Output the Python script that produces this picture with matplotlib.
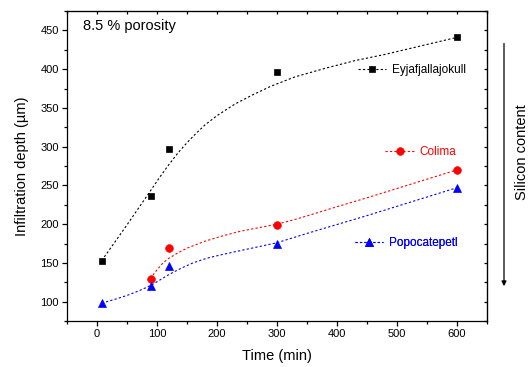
import matplotlib
matplotlib.use("Agg")
import matplotlib.pyplot as plt
from matplotlib.lines import Line2D
from matplotlib.ticker import MultipleLocator

plt.rcParams['font.family'] = ['Liberation Sans', 'DejaVu Sans']

# measured points: time (min) vs infiltration depth (um)
time_eyj = [8, 90, 120, 300, 600]
depth_eyj = [153, 236, 297, 396, 441]
time_col = [90, 120, 300, 600]
depth_col = [129, 169, 199, 270]
time_pop = [8, 90, 120, 300, 600]
depth_pop = [98, 120, 146, 175, 247]

# dotted guide curves
fit_t_eyj = [8, 50, 90, 105, 120, 135, 150, 165, 180, 200, 230, 260, 290,
             330, 380, 430, 480, 540, 600]
fit_d_eyj = [153, 199, 244, 261, 277, 292, 305, 317, 328, 340, 355, 367, 378,
             390, 401, 411, 419, 430, 441]
fit_t_col = [90, 95, 100, 110, 120, 135, 150, 180, 210, 240, 270, 300, 330,
             360, 400, 450, 500, 550, 600]
fit_d_col = [129, 136, 141, 150, 156, 163, 169, 178, 185, 191, 195.5, 200, 206,
             213, 222.5, 234, 246, 258, 270]
fit_t_pop = [8, 30, 50, 70, 90, 105, 120, 140, 160, 183, 210, 240, 270, 300,
             350, 400, 450, 500, 550, 600]
fit_d_pop = [98, 103, 108, 114, 121, 128, 135, 143, 150, 156, 161, 166, 171,
             176, 188, 199.5, 211, 223, 235, 247]

names = ["Eyjafjallajokull", "Colima", "Popocatepetl"]
colors = ["black", "red", "blue"]
markers = ["s", "o", "^"]
sizes = [5, 5.5, 6]


def main():
    fig = plt.figure(figsize=(5.32, 3.67), dpi=100)
    ax = fig.add_axes([0.1259, 0.1253, 0.7895, 0.8447])

    series = [(time_eyj, depth_eyj, fit_t_eyj, fit_d_eyj),
              (time_col, depth_col, fit_t_col, fit_d_col),
              (time_pop, depth_pop, fit_t_pop, fit_d_pop)]
    dots = (0, (2, 2))
    for (t, d, ft, fd), c, m, s in zip(series, colors, markers, sizes):
        ax.plot(ft, fd, color=c, lw=0.8, linestyle=dots)
        ax.plot(t, d, linestyle="none", marker=m, ms=s, color=c,
                markeredgewidth=0.5, zorder=3)

    ax.set_xlim(-50, 650)
    ax.set_ylim(75, 475)
    ax.xaxis.set_major_locator(MultipleLocator(100))
    ax.xaxis.set_minor_locator(MultipleLocator(50))
    ax.yaxis.set_major_locator(MultipleLocator(50))
    ax.yaxis.set_minor_locator(MultipleLocator(25))
    ax.tick_params(which='major', direction='out', length=3.5, width=0.9,
                   labelsize=8, pad=2.5)
    ax.tick_params(which='minor', direction='out', length=2, width=0.9)
    for sp in ax.spines.values():
        sp.set_linewidth(0.9)

    top = ax.secondary_xaxis('top')
    top.xaxis.set_major_locator(MultipleLocator(50))
    top.tick_params(direction='in', length=2.5, width=0.9, labeltop=False)
    right = ax.secondary_yaxis('right')
    right.yaxis.set_major_locator(MultipleLocator(25))
    right.tick_params(direction='in', length=2.5, width=0.9, labelright=False)

    ax.set_xlabel("Time (min)", fontsize=10.5, labelpad=7)
    ax.set_ylabel("Infiltration depth (\u00b5m)", fontsize=10.5, labelpad=8)

    ax.text(0.037, 0.953, "8.5 % porosity", transform=ax.transAxes,
            fontsize=10.5, va='center', ha='left')

    # one little legend per series, placed next to its curve
    spots = [(0.693, 0.81), (0.758, 0.546), (0.686, 0.2516)]
    for name, c, m, s, spot in zip(names, colors, markers, sizes, spots):
        h = Line2D([], [], color=c, lw=0.8, linestyle=dots, marker=m, ms=s,
                   markeredgewidth=0.5)
        leg = ax.legend(handles=[h], labels=[name], loc='center left',
                        bbox_to_anchor=spot, frameon=False, fontsize=8.5,
                        handlelength=2.4, handletextpad=0.5, borderpad=0,
                        borderaxespad=0, labelcolor=c)
        ax.add_artist(leg)

    # arrow + text on the right
    fig.patches.append(matplotlib.patches.FancyArrowPatch(
        (504 / 532, 1 - 40.7 / 367), (504 / 532, 1 - 289 / 367),
        transform=fig.transFigure, arrowstyle='-|>', mutation_scale=7,
        lw=0.9, color='black'))
    fig.text(522 / 532, 1 - 152 / 367, "Silicon content", rotation=90,
             fontsize=10.5, ha='center', va='center')

    fig.savefig("out.png", dpi=100)


if __name__ == '__main__':
    main()
